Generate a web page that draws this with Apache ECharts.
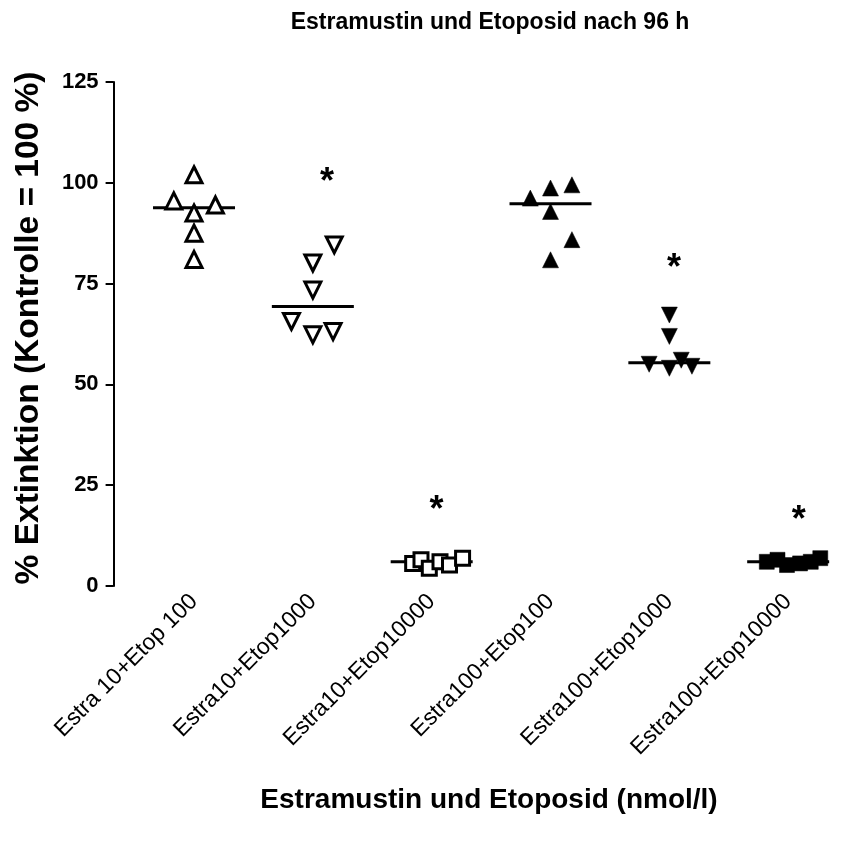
<!DOCTYPE html>
<html>
<head>
<meta charset="utf-8">
<script src="https://cdn.jsdelivr.net/npm/echarts@6/dist/echarts.min.js"></script>
<style>
html,body{margin:0;padding:0;background:#fff;}
#chart{width:857px;height:844px;}
</style>
</head>
<body>
<div id="chart"></div>
<script>
// ---- data ----
const categories = ['Estra 10+Etop 100','Estra10+Etop1000','Estra10+Etop10000','Estra100+Etop100','Estra100+Etop1000','Estra100+Etop10000'];
const estra10Etop100    = [102.0, 95.5, 92.5, 94.5, 87.5, 81.0];
const estra10Etop1000   = [84.6, 80.1, 73.4, 65.6, 62.3, 63.1];
const estra10Etop10000  = [5.6, 6.5, 4.4, 6.0, 5.2, 6.9];
const estra100Etop100   = [96.2, 98.7, 99.5, 92.9, 85.9, 80.9];
const estra100Etop1000  = [67.2, 61.9, 55.0, 54.0, 56.0, 54.5];
const estra100Etop10000 = [6.0, 6.5, 5.2, 5.6, 6.0, 6.9];
const medians = [93.8, 69.3, 6.0, 94.8, 55.4, 6.0];
const significance = [null, 102, 20.5, null, 80.5, 18.0];   // '*' marks
const yTicks = [0, 25, 50, 75, 100, 125];

const titleText = 'Estramustin und Etoposid nach 96 h';
const xTitle = 'Estramustin und Etoposid (nmol/l)';
const yTitle = '% Extinktion (Kontrolle = 100 %)';

// horizontal scatter of the points inside each column (category units)
const jitter = [
  [0, -0.17, 0, 0.18, 0, 0],
  [0.18, 0, 0, -0.18, 0, 0.17],
  [-0.16, -0.09, -0.02, 0.07, 0.15, 0.26],
  [-0.17, 0, 0.18, 0, 0.18, 0],
  [0, 0, -0.17, 0, 0.1, 0.19],
  [-0.18, -0.09, -0.01, 0.10, 0.19, 0.27]
];
const starShift = [0, 0.12, 0.04, 0, 0.04, 0.09];

const groups = [estra10Etop100, estra10Etop1000, estra10Etop10000, estra100Etop100, estra100Etop1000, estra100Etop10000];
const FONT = 'Liberation Sans, Arial, Helvetica, sans-serif';

const styles = [
  {symbol:'triangle', rotate:0,   fill:'#fff', size:16},
  {symbol:'triangle', rotate:180, fill:'#fff', size:16},
  {symbol:'rect',     rotate:0,   fill:'#fff', size:14},
  {symbol:'triangle', rotate:0,   fill:'#000', size:16},
  {symbol:'triangle', rotate:180, fill:'#000', size:16},
  {symbol:'rect',     rotate:0,   fill:'#000', size:15}
];

const series = [];
series.push({
  type:'scatter', xAxisIndex:1, yAxisIndex:0, z:1,
  symbol:'rect', symbolSize:[82,3],
  itemStyle:{color:'#000', opacity:1},
  data: medians.map((m,i)=>[i,m]),
  silent:true
});
groups.forEach((vals,i)=>{
  const s = styles[i];
  series.push({
    type:'scatter', xAxisIndex:1, yAxisIndex:0, z:3,
    symbol:s.symbol, symbolRotate:s.rotate, symbolSize:s.size,
    itemStyle:{color:s.fill, opacity:1, borderColor:'#000', borderWidth: s.fill==='#fff' ? 3 : 0.5},
    data: vals.map((v,k)=>[i+jitter[i][k], v]),
    silent:true
  });
});
series.push({
  type:'scatter', xAxisIndex:1, yAxisIndex:0, z:4,
  symbolSize:0,
  itemStyle:{color:'#000', opacity:1},
  label:{show:true, position:'inside', formatter:'*', color:'#000', opacity:1,
         fontFamily:FONT, fontSize:36, fontWeight:'bold', offset:[0,8]},
  data: significance.map((v,i)=> v==null ? null : [i+starShift[i], v]).filter(d=>d),
  silent:true
});

const chart = echarts.init(document.getElementById('chart'), null, {renderer:'canvas'});
chart.setOption({
  animation:false,
  backgroundColor:'#fff',
  graphic:[
    {type:'text', x:490, y:23, style:{text:titleText, align:'center', verticalAlign:'middle',
      font:'bold 23px ' + FONT, fill:'#000'}},
    {type:'text', x:489, y:800, style:{text:xTitle, align:'center', verticalAlign:'middle',
      font:'bold 28px ' + FONT, fill:'#000'}},
    {type:'text', x:29, y:328, rotation:Math.PI/2, style:{text:yTitle, align:'center', verticalAlign:'middle',
      font:'bold 33.5px ' + FONT, fill:'#000'}}
  ],
  grid:{left:134.6, right:9.4, top:82, bottom:258, containLabel:false},
  xAxis:[
    {
      type:'category', data:categories, boundaryGap:true,
      axisLine:{show:false}, axisTick:{show:false}, splitLine:{show:false},
      axisLabel:{rotate:45, interval:0, margin:12, color:'#000', fontFamily:FONT, fontSize:23}
    },
    {type:'value', min:-0.5, max:5.5, show:false}
  ],
  yAxis:{
    type:'value', min:yTicks[0], max:yTicks[yTicks.length-1], interval:25, offset:21,
    axisLine:{show:true, onZero:false, lineStyle:{color:'#000', width:2}},
    axisTick:{show:true, length:8, lineStyle:{color:'#000', width:2}},
    splitLine:{show:false},
    axisLabel:{margin:15, color:'#000', fontFamily:FONT, fontSize:22, fontWeight:'bold'}
  },
  series:series
});
</script>
</body>
</html>
